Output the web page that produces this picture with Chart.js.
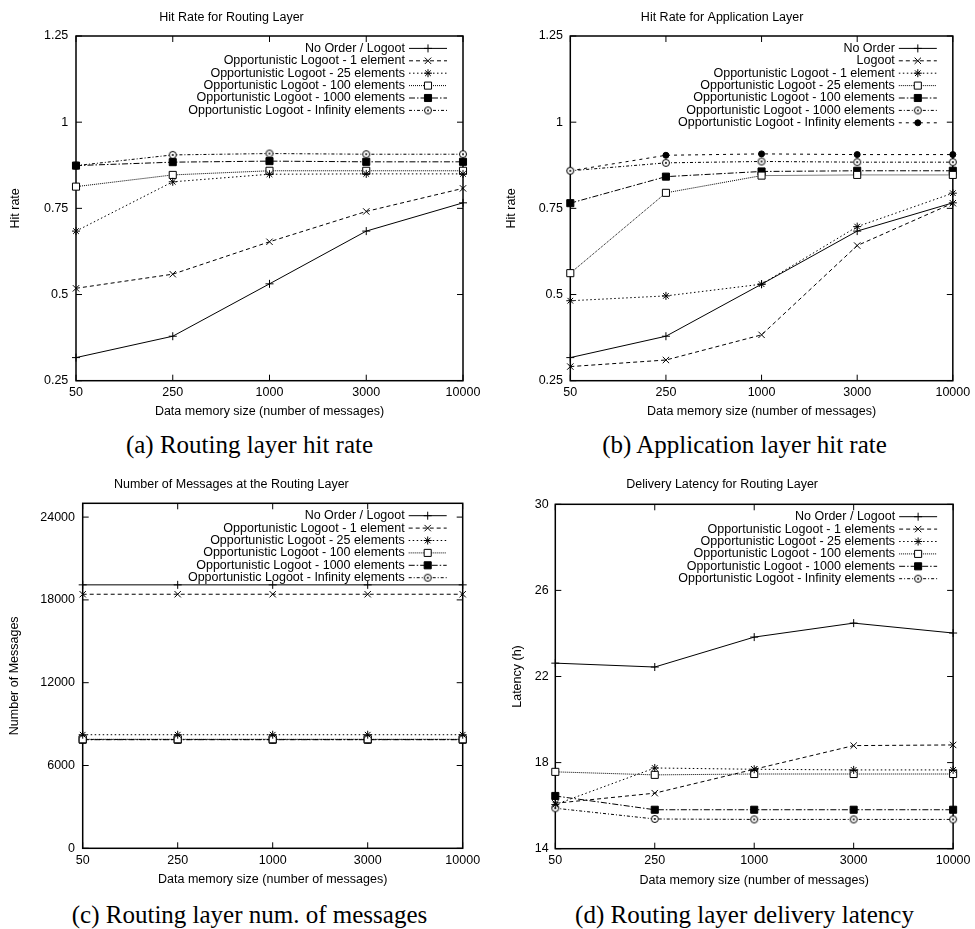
<!DOCTYPE html>
<html>
<head>
<meta charset="utf-8">
<script src="https://cdn.jsdelivr.net/npm/chart.js@4/dist/chart.umd.min.js"></script>
<style>
  html, body { margin: 0; padding: 0; background: #fff; }
  body { position: relative; width: 975px; height: 929px; overflow: hidden; }
  canvas { position: absolute; }
  .cap { position: absolute; width: 487px; text-align: center; font: 25px/25px "Liberation Serif", "Times New Roman", serif; color: #000; white-space: nowrap; }
</style>
</head>
<body>
<canvas id="chartA" width="487" height="425" style="left:0;top:0"></canvas>
<canvas id="chartB" width="488" height="425" style="left:487px;top:0"></canvas>
<canvas id="chartC" width="487" height="425" style="left:0;top:467px"></canvas>
<canvas id="chartD" width="488" height="425" style="left:487px;top:467px"></canvas>
<div class="cap" style="left:6px;top:432px">(a) Routing layer hit rate</div>
<div class="cap" style="left:501px;top:432px">(b) Application layer hit rate</div>
<div class="cap" style="left:6px;top:902px">(c) Routing layer num. of messages</div>
<div class="cap" style="left:501px;top:902px">(d) Routing layer delivery latency</div>
<script>
// memory sizes (x axis)
var memSizes = ['50', '250', '1000', '3000', '10000'];

// (a) hit rate, routing layer
var hitRouteNoOrder = [0.317, 0.379, 0.531, 0.684, 0.766];
var hitRouteOL1     = [0.518, 0.559, 0.653, 0.741, 0.808];
var hitRouteOL25    = [0.684, 0.827, 0.849, 0.850, 0.850];
var hitRouteOL100   = [0.813, 0.847, 0.859, 0.859, 0.859];
var hitRouteOL1000  = [0.874, 0.884, 0.887, 0.885, 0.885];
var hitRouteOLInf   = [0.874, 0.905, 0.909, 0.907, 0.907];

// (b) hit rate, application layer
var hitAppNoOrder = [0.317, 0.379, 0.530, 0.684, 0.766];
var hitAppLogoot  = [0.291, 0.310, 0.383, 0.642, 0.765];
var hitAppOL1     = [0.482, 0.496, 0.530, 0.697, 0.794];
var hitAppOL25    = [0.562, 0.795, 0.845, 0.847, 0.847];
var hitAppOL100   = [0.765, 0.842, 0.857, 0.859, 0.859];
var hitAppOL1000  = [0.859, 0.882, 0.886, 0.884, 0.884];
var hitAppOLInf   = [0.859, 0.904, 0.908, 0.906, 0.906];

// (c) number of messages, routing layer
var msgNoOrder = [19090, 19090, 19090, 19090, 19090];
var msgOL1     = [18410, 18410, 18410, 18410, 18410];
var msgOL25    = [8230, 8230, 8230, 8230, 8230];
var msgOL100   = [7900, 7900, 7900, 7900, 7900];
var msgOL1000  = [7870, 7870, 7870, 7870, 7870];
var msgOLInf   = [7880, 7880, 7880, 7880, 7880];

// (d) delivery latency (h), routing layer
var latNoOrder = [22.62, 22.44, 23.83, 24.48, 24.02];
var latOL1     = [16.11, 16.58, 17.69, 18.79, 18.82];
var latOL25    = [16.05, 17.75, 17.69, 17.66, 17.66];
var latOL100   = [17.57, 17.43, 17.47, 17.47, 17.47];
var latOL1000  = [16.45, 15.81, 15.81, 15.81, 15.81];
var latOLInf   = [15.88, 15.38, 15.36, 15.36, 15.36];

// y tick labels
var yTicksHit = [0.25, 0.5, 0.75, 1, 1.25];
var yTicksMsg = [0, 6000, 12000, 18000, 24000];
var yTicksLat = [14, 18, 22, 26, 30];

var FONT = '"Liberation Sans", Arial, sans-serif';
Chart.defaults.font.family = FONT;
Chart.defaults.font.size = 12.5;
Chart.defaults.color = '#000';

// circle with a dot (gnuplot point type 6)
var circDot = document.createElement('canvas');
circDot.width = 10; circDot.height = 10;
(function () {
    var c = circDot.getContext('2d');
    c.fillStyle = '#fff'; c.strokeStyle = '#000'; c.lineWidth = 1;
    c.beginPath(); c.arc(5, 5, 3.5, 0, Math.PI * 2); c.fill(); c.stroke();
    c.fillStyle = '#000';
    c.beginPath(); c.arc(5, 5, 1, 0, Math.PI * 2); c.fill();
})();

// gnuplot-like line types
var lineTypes = {
    1: {dash: [], point: 'cross', r: 4, fill: '#000'},
    2: {dash: [4, 3], point: 'crossRot', r: 4.5, fill: '#000'},
    3: {dash: [1.5, 2.5], point: 'star', r: 4, fill: '#000'},
    4: {dash: [1, 1], point: 'rect', r: 5, fill: '#fff'},
    5: {dash: [6, 2, 1.5, 2], point: 'rect', r: 5, fill: '#000'},
    6: {dash: [3, 2, 1, 2], point: circDot, r: 4, fill: '#fff'},
    7: {dash: [3, 4], point: 'circle', r: 3, fill: '#000'}
};

function series(label, data, lt) {
    var s = lineTypes[lt];
    return {
        label: label,
        data: data,
        borderColor: '#000',
        borderWidth: 1,
        borderDash: s.dash,
        pointStyle: s.point,
        pointRadius: s.r,
        pointBorderColor: '#000',
        pointBorderWidth: 1,
        pointBackgroundColor: s.fill,
        tension: 0,
        fill: false,
        clip: false
    };
}

var framePlugin = {
    id: 'frame',
    beforeDatasetsDraw: function (chart) {
        var ctx = chart.ctx, a = chart.chartArea, x = chart.scales.x, y = chart.scales.y;
        ctx.save();
        ctx.strokeStyle = '#000';
        ctx.lineWidth = 1;
        ctx.beginPath();
        x.ticks.forEach(function (t, i) {
            var px = x.getPixelForTick(i);
            ctx.moveTo(px, a.bottom); ctx.lineTo(px, a.bottom - 6);
            ctx.moveTo(px, a.top); ctx.lineTo(px, a.top + 6);
        });
        y.ticks.forEach(function (t, i) {
            var py = y.getPixelForTick(i);
            ctx.moveTo(a.left, py); ctx.lineTo(a.left + 6, py);
            ctx.moveTo(a.right, py); ctx.lineTo(a.right - 6, py);
        });
        ctx.stroke();
        ctx.lineWidth = 1.5;
        ctx.strokeRect(a.left, a.top, a.right - a.left, a.bottom - a.top);
        ctx.restore();
    }
};

var keyPlugin = {
    id: 'key',
    afterDraw: function (chart) {
        var ctx = chart.ctx, a = chart.chartArea;
        ctx.save();
        ctx.font = '12.5px ' + FONT;
        ctx.textAlign = 'right';
        ctx.textBaseline = 'middle';
        chart.data.datasets.forEach(function (ds, i) {
            var y = a.top + 12.4 * (i + 1), xr = a.right;
            ctx.fillStyle = '#000';
            ctx.fillText(ds.label, xr - 58, y);
            ctx.strokeStyle = '#000';
            ctx.lineWidth = 1;
            ctx.setLineDash(ds.borderDash);
            ctx.beginPath(); ctx.moveTo(xr - 54, y); ctx.lineTo(xr - 16, y); ctx.stroke();
            ctx.setLineDash([]);
            ctx.fillStyle = ds.pointBackgroundColor;
            ctx.strokeStyle = '#000';
            Chart.helpers.drawPoint(ctx, {pointStyle: ds.pointStyle, radius: ds.pointRadius, rotation: 0, borderWidth: 1}, xr - 35, y);
        });
        ctx.restore();
    }
};

function makeChart(id, g, title, yTitle, yMin, yMax, yTicks, datasets) {
    return new Chart(document.getElementById(id), {
        type: 'line',
        data: {labels: memSizes, datasets: datasets},
        plugins: [framePlugin, keyPlugin],
        options: {
            responsive: false,
            animation: false,
            events: [],
            layout: {padding: {left: 0, top: 0, right: g.padRight, bottom: g.padBottom}},
            plugins: {
                legend: {display: false},
                tooltip: {enabled: false},
                title: {
                    display: true,
                    text: title,
                    color: '#000',
                    font: {size: 12.5, weight: 'normal', family: FONT, lineHeight: 1.2},
                    padding: {top: g.titleTop, bottom: g.titleBottom}
                }
            },
            scales: {
                x: {
                    type: 'category',
                    offset: false,
                    grid: {display: false, drawTicks: false},
                    border: {display: false},
                    ticks: {padding: g.xPad, maxRotation: 0, autoSkip: false, font: {size: 12.5}},
                    title: {display: true, text: 'Data memory size (number of messages)', font: {size: 12.5, lineHeight: 1.2}, padding: {top: 0, bottom: g.xTitlePad}},
                    afterFit: function (s) { s.height = 42; }
                },
                y: {
                    min: yMin,
                    max: yMax,
                    grid: {display: false, drawTicks: false},
                    border: {display: false},
                    ticks: {padding: g.yPad, font: {size: 12.5}, callback: function (v) { return String(v); }},
                    afterBuildTicks: function (s) { s.ticks = yTicks.map(function (v) { return {value: v}; }); },
                    title: {display: true, text: yTitle, font: {size: 12.5, lineHeight: 1.2}, padding: {top: g.yTitlePad, bottom: 0}},
                    afterFit: function (s) { s.width = g.left; }
                }
            }
        }
    });
}

makeChart('chartA',
    {left: 76, padRight: 24, padBottom: 2.3, titleTop: 10.5, titleBottom: 10.5, xPad: 4.8, xTitlePad: 3.2, yPad: 7.7, yTitlePad: 8.5},
    'Hit Rate for Routing Layer', 'Hit rate', 0.25, 1.25, yTicksHit, [
        series('No Order / Logoot', hitRouteNoOrder, 1),
        series('Opportunistic Logoot - 1 element', hitRouteOL1, 2),
        series('Opportunistic Logoot - 25 elements', hitRouteOL25, 3),
        series('Opportunistic Logoot - 100 elements', hitRouteOL100, 4),
        series('Opportunistic Logoot - 1000 elements', hitRouteOL1000, 5),
        series('Opportunistic Logoot - Infinity elements', hitRouteOLInf, 6)
    ]);

makeChart('chartB',
    {left: 83.3, padRight: 17.7, padBottom: 2.3, titleTop: 10.5, titleBottom: 10.5, xPad: 4.8, xTitlePad: 3.2, yPad: 7.3, yTitlePad: 17},
    'Hit Rate for Application Layer', 'Hit rate', 0.25, 1.25, yTicksHit, [
        series('No Order', hitAppNoOrder, 1),
        series('Logoot', hitAppLogoot, 2),
        series('Opportunistic Logoot - 1 element', hitAppOL1, 3),
        series('Opportunistic Logoot - 25 elements', hitAppOL25, 4),
        series('Opportunistic Logoot - 100 elements', hitAppOL100, 5),
        series('Opportunistic Logoot - 1000 elements', hitAppOL1000, 6),
        series('Opportunistic Logoot - Infinity elements', hitAppOLInf, 7)
    ]);

makeChart('chartC',
    {left: 82.7, padRight: 24.3, padBottom: 1.7, titleTop: 10.5, titleBottom: 10.8, xPad: 4.9, xTitlePad: 2.8, yPad: 7.7, yTitlePad: 7.5},
    'Number of Messages at the Routing Layer', 'Number of Messages', 0, 25000, yTicksMsg, [
        series('No Order / Logoot', msgNoOrder, 1),
        series('Opportunistic Logoot - 1 element', msgOL1, 2),
        series('Opportunistic Logoot - 25 elements', msgOL25, 3),
        series('Opportunistic Logoot - 100 elements', msgOL100, 4),
        series('Opportunistic Logoot - 1000 elements', msgOL1000, 5),
        series('Opportunistic Logoot - Infinity elements', msgOLInf, 6)
    ]);

makeChart('chartD',
    {left: 68.3, padRight: 17.7, padBottom: 1.3, titleTop: 10.5, titleBottom: 11.8, xPad: 4.5, xTitlePad: 2.5, yPad: 6.6, yTitlePad: 23.5},
    'Delivery Latency for Routing Layer', 'Latency (h)', 14, 30, yTicksLat, [
        series('No Order / Logoot', latNoOrder, 1),
        series('Opportunistic Logoot - 1 elements', latOL1, 2),
        series('Opportunistic Logoot - 25 elements', latOL25, 3),
        series('Opportunistic Logoot - 100 elements', latOL100, 4),
        series('Opportunistic Logoot - 1000 elements', latOL1000, 5),
        series('Opportunistic Logoot - Infinity elements', latOLInf, 6)
    ]);
</script>
</body>
</html>
